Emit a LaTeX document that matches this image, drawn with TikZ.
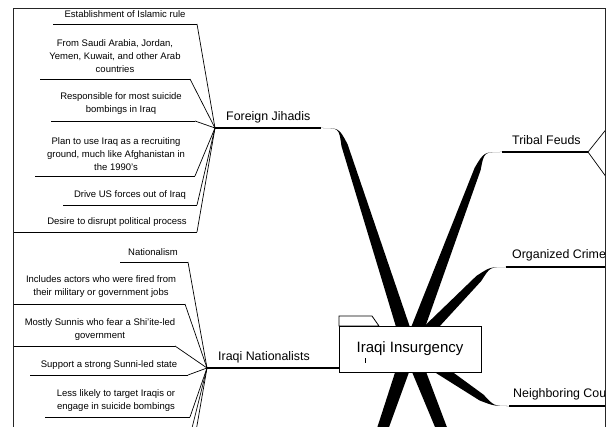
\documentclass[tikz,border=0pt]{standalone}
\usepackage{fontspec}
\setmainfont{Liberation Sans}
\usetikzlibrary{calc}

% tapered branch: #1 start, #2 corner, #3 end of the rounded elbow,
% #4 half width at the start, #5 half width where the elbow begins, #6 elbow radius
\newcommand\taperbranch[6]{%
  \path ($(#2)!#6!(#1)$) coordinate (tb-b);
  \fill ($(#1)!#4!90:(tb-b)$) -- ($(tb-b)!#5!-90:(#1)$)
        .. controls (#2) .. (#3)
        .. controls (#2) .. ($(tb-b)!#5!90:(#1)$)
        -- ($(#1)!#4!-90:(tb-b)$) -- cycle;
}
% straight tapered branch leaving the view: #1 start, #2 far point, #3/#4 half widths
\newcommand\taperstraight[4]{%
  \fill ($(#1)!#3!90:(#2)$) -- ($(#2)!#4!-90:(#1)$)
        -- ($(#2)!#4!90:(#1)$) -- ($(#1)!#3!-90:(#2)$) -- cycle;
}

\begin{document}
\begin{tikzpicture}[x=1pt,y=-1pt,
  leaf/.style={font=\fontsize{9.5}{13}\selectfont, align=center, inner sep=0pt},
  topic/.style={font=\fontsize{12.4}{15}\selectfont, anchor=west, inner sep=0pt,
               text height=9pt, text depth=2.5pt},
  uline/.style={line width=0.9pt},
  spoke/.style={line width=0.7pt},
  stem/.style={line width=1.3pt},
  frameline/.style={line width=1.2pt, draw=black!85}]
\useasboundingbox (0,0) rectangle (607,427);

\begin{scope}
\clip (13.5,8.5) rectangle (605.5,440);

% ---------- centre and main branches ----------
\coordinate (c) at (410,349);
\coordinate (fjk) at (339,128);  \coordinate (fje) at (321,128);
\coordinate (tfk) at (484,152);  \coordinate (tfe) at (502,152);
\coordinate (ock) at (490,267);  \coordinate (oce) at (506,267);
\coordinate (nck) at (494,406);  \coordinate (nce) at (509,406);
\coordinate (ink) at (341,368);  \coordinate (ine) at (320,368);
\coordinate (bl) at (365,480);
\coordinate (br) at (462,480);

\taperbranch{c}{fjk}{fje}{7pt}{3.2pt}{18pt}
\taperbranch{c}{tfk}{tfe}{7pt}{3.2pt}{18pt}
\taperbranch{c}{ock}{oce}{6.5pt}{3.5pt}{16pt}
\taperbranch{c}{nck}{nce}{6.5pt}{3.5pt}{15pt}
\taperbranch{c}{ink}{ine}{5pt}{2.2pt}{20pt}
\taperstraight{c}{bl}{7pt}{4.5pt}
\taperstraight{c}{br}{7pt}{4.5pt}

% branch hubs
\coordinate (fj) at (215,128);
\coordinate (in) at (207,368);
\coordinate (tf) at (588,152);

\draw[stem] (fj) -- (fje);
\draw[stem] (in) -- (ink);
\draw[stem] (tfe) -- (tf);
\draw[stem] (oce) -- ++(120,0) coordinate (ocout);
\draw[stem] (nce) -- ++(120,0) coordinate (ncout);

% Tribal Feuds sub-topics (beyond the view)
\coordinate (tf1) at (620,112);
\coordinate (tf2) at (620,196);
\draw[spoke] (tf) -- (tf1);
\draw[spoke] (tf) -- (tf2);

% branch labels
\node[topic] (fjlab) at (226,117) {Foreign Jihadis};
\node[topic] (inlab) at (218,357) {Iraqi Nationalists};
\node[topic] (tflab) at (512,141) {Tribal Feuds};
\node[topic] (oclab) at (512,255) {Organized Crime};
\node[topic] (nclab) at (513,394) {Neighboring Countries};

% ---------- central topic ----------
\draw[line width=0.8pt, fill=white] (339,326) -- (339,316) -- (372,316) -- (379,326) -- cycle;
\node[draw, line width=0.8pt, fill=white, minimum width=142, minimum height=46,
      font=\fontsize{15}{18}\selectfont, inner sep=0pt] (core) at (410,349) {Iraqi Insurgency};
\draw[line width=0.6pt] (365,358) -- (365,363);

% ---------- Foreign Jihadis sub-topics ----------
\node[leaf] (fj1) at (125,14) {Establishment of Islamic rule};
\node[leaf] (fj2) at (115,56) {From Saudi Arabia, Jordan,\\Yemen, Kuwait, and other Arab\\countries};
\node[leaf] (fj3) at (121,103.5) {Responsible for most suicide\\bombings in Iraq};
\node[leaf] (fj4) at (116,154.5) {Plan to use Iraq as a recruiting\\ground, much like Afghanistan in\\the 1990's};
\node[leaf] (fj5) at (130,195) {Drive US forces out of Iraq};
\node[leaf] (fj6) at (117,222) {Desire to disrupt political process};

\coordinate (fj1l) at (53,24);   \coordinate (fj1r) at (197,24);
\coordinate (fj2l) at (40,79);   \coordinate (fj2r) at (190,79);
\coordinate (fj3l) at (51,121);  \coordinate (fj3r) at (195,121);
\coordinate (fj4l) at (35,176);  \coordinate (fj4r) at (195,176);
\coordinate (fj5l) at (63,205);  \coordinate (fj5r) at (197,205);
\coordinate (fj6l) at (5,232);   \coordinate (fj6r) at (197,232);
\foreach \i in {1,...,6} {
  \draw[uline] (fj\i l) -- (fj\i r);
  \draw[spoke] (fj\i r) -- (fj);
}

% ---------- Iraqi Nationalists sub-topics ----------
\node[leaf] (in1) at (153,252) {Nationalism};
\node[leaf] (in2) at (101,287) {Includes actors who were fired from\\their military or government jobs};
\node[leaf] (in3) at (100,329.5) {Mostly Sunnis who fear a Shi'ite-led\\government};
\node[leaf] (in4) at (109,365) {Support a strong Sunni-led state};
\node[leaf] (in5) at (116,401) {Less likely to target Iraqis or\\engage in suicide bombings};

\coordinate (in1l) at (120,262); \coordinate (in1r) at (188,262);
\coordinate (in2l) at (5,304);   \coordinate (in2r) at (185,304);
\coordinate (in3l) at (5,346);   \coordinate (in3r) at (175,346);
\coordinate (in4l) at (30,375);  \coordinate (in4r) at (188,375);
\coordinate (in5l) at (45,417);  \coordinate (in5r) at (190,417);
\foreach \i in {1,...,5} {
  \draw[uline] (in\i l) -- (in\i r);
  \draw[spoke] (in\i r) -- (in);
}
% further sub-topics below the view
\coordinate (in6) at (184,460);
\coordinate (in7) at (191,460);
\draw[spoke] (in) -- (in6);
\draw[spoke] (in) -- (in7);
\end{scope}

% ---------- view frame ----------
\draw[frameline] (13.5,440) -- (13.5,8.5) -- (605.5,8.5) -- (605.5,440);
\end{tikzpicture}
\end{document}
